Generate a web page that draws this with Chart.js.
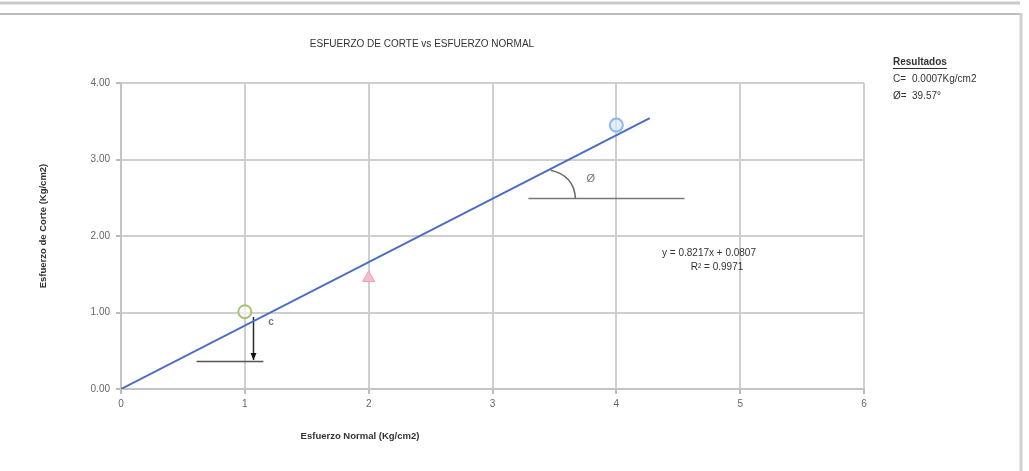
<!DOCTYPE html>
<html>
<head>
<meta charset="utf-8">
<script src="https://cdn.jsdelivr.net/npm/chart.js@4.4.1/dist/chart.umd.min.js"></script>
<style>
  html, body { margin: 0; padding: 0; background: #fff; }
  #wrap { width: 1029px; height: 471px; position: relative; }
</style>
</head>
<body>
<div id="wrap"><canvas id="shearChart" width="1029" height="471"></canvas></div>
<script>
// ensayo de corte directo: esfuerzo normal vs esfuerzo de corte
const normalStress = [1, 2, 4];
const shearStress = [1.01, 1.45, 3.45];

// linea de tendencia (extremos)
const trendX = [0, 4.27];
const trendY = [0.0, 3.54];

const xTicks = [0, 1, 2, 3, 4, 5, 6];
const yTicks = [0, 1, 2, 3, 4];

// trazos auxiliares (cohesion y angulo)
const cohesionX = [1.07, 1.07];
const cohesionY = [0.94, 0.38];
const cohesionBaseX = [0.61, 1.15];
const cohesionBaseY = [0.36, 0.36];
const phiBaseX = [3.29, 4.55];
const phiBaseY = [2.49, 2.49];
const phiArc = [[3.47, 2.86], [3.66, 2.79], [3.67, 2.49]];

const FONT = "'Liberation Sans', Arial, sans-serif";

const pts = (xs, ys) => xs.map((x, i) => ({ x: x, y: ys[i] }));

const decorPlugin = {
  id: "decor",
  beforeDraw(chart) {
    const c = chart.ctx;
    c.save();
    c.fillStyle = "#fff";
    c.fillRect(0, 0, chart.width, chart.height);
    // marco exterior del informe
    c.strokeStyle = "#c9c9c9";
    c.lineWidth = 3;
    c.beginPath(); c.moveTo(0, 3); c.lineTo(1020, 3); c.stroke();
    c.strokeStyle = "#bdbdbd";
    c.lineWidth = 2;
    c.beginPath(); c.moveTo(0, 14); c.lineTo(1021, 14); c.stroke();
    c.strokeStyle = "#d0d0d0";
    c.lineWidth = 3;
    c.beginPath(); c.moveTo(1021, 13); c.lineTo(1021, 471); c.stroke();
    c.restore();
  },
  afterDatasetsDraw(chart) {
    const c = chart.ctx;
    const xs = chart.scales.x, ys = chart.scales.y;
    const area = chart.chartArea;
    c.save();
    // arco del angulo
    c.strokeStyle = "#6a6a6a";
    c.lineWidth = 1.5;
    c.beginPath();
    c.moveTo(xs.getPixelForValue(phiArc[0][0]), ys.getPixelForValue(phiArc[0][1]));
    c.quadraticCurveTo(xs.getPixelForValue(phiArc[1][0]), ys.getPixelForValue(phiArc[1][1]),
      xs.getPixelForValue(phiArc[2][0]), ys.getPixelForValue(phiArc[2][1]));
    c.stroke();
    // flecha de cohesion
    const ax = xs.getPixelForValue(cohesionX[1]), ay = ys.getPixelForValue(cohesionY[1]);
    c.fillStyle = "#111";
    c.beginPath(); c.moveTo(ax, ay); c.lineTo(ax - 3, ay - 7); c.lineTo(ax + 3, ay - 7); c.closePath(); c.fill();

    c.fillStyle = "#777";
    c.font = "bold 10px " + FONT;
    c.textAlign = "left"; c.textBaseline = "middle";
    c.fillText("c", xs.getPixelForValue(1.19), ys.getPixelForValue(0.87));
    c.font = "11px " + FONT;
    c.fillText("Ø", xs.getPixelForValue(3.76), ys.getPixelForValue(2.75));

    // ecuacion de la tendencia
    c.fillStyle = "#333";
    c.font = "10px " + FONT;
    c.textAlign = "center";
    c.fillText("y = 0.8217x + 0.0807", 709, 253);
    c.fillText("R² = 0.9971", 717, 267);

    // titulos
    c.fillStyle = "#333";
    c.font = "10px " + FONT;
    c.fillText("ESFUERZO DE CORTE vs ESFUERZO NORMAL", 422, 44);
    c.font = "bold 9.5px " + FONT;
    c.fillText("Esfuerzo Normal (Kg/cm2)", 360, 436);
    c.save();
    c.translate(43, (area.top + area.bottom) / 2 - 10);
    c.rotate(-Math.PI / 2);
    c.fillText("Esfuerzo de Corte (Kg/cm2)", 0, 0);
    c.restore();

    // resultados
    c.textAlign = "left";
    c.font = "bold 10px " + FONT;
    c.fillText("Resultados", 893, 62);
    const w = c.measureText("Resultados").width;
    c.fillRect(893, 68, w, 1);
    c.font = "10px " + FONT;
    c.fillText("C=", 893, 79);
    c.fillText("0.0007Kg/cm2", 912, 79);
    c.fillText("Ø=", 893, 96);
    c.fillText("39.57°", 912, 96);
    c.restore();
  }
};

const ctx = document.getElementById("shearChart").getContext("2d");

new Chart(ctx, {
  type: "scatter",
  data: {
    datasets: [
      {
        label: "tendencia",
        data: pts(trendX, trendY),
        showLine: true,
        borderColor: "#4a6cc4",
        borderWidth: 2,
        pointRadius: 0
      },
      {
        label: "cohesion",
        data: pts(cohesionX, cohesionY),
        showLine: true,
        borderColor: "#2b2b2b",
        borderWidth: 1.5,
        pointRadius: 0
      },
      {
        label: "base c",
        data: pts(cohesionBaseX, cohesionBaseY),
        showLine: true,
        borderColor: "#555",
        borderWidth: 1.5,
        pointRadius: 0
      },
      {
        label: "base phi",
        data: pts(phiBaseX, phiBaseY),
        showLine: true,
        borderColor: "#777",
        borderWidth: 1.5,
        pointRadius: 0
      },
      {
        label: "P1",
        data: [{ x: normalStress[0], y: shearStress[0] }],
        pointStyle: "circle",
        pointRadius: 6.5,
        borderWidth: 2,
        borderColor: "#a8c27a",
        backgroundColor: "rgba(255,255,255,0.6)"
      },
      {
        label: "P2",
        data: [{ x: normalStress[1], y: shearStress[1] }],
        pointStyle: "triangle",
        pointRadius: 7,
        borderWidth: 1,
        borderColor: "#f0a0b4",
        backgroundColor: "#f6bccb"
      },
      {
        label: "P3",
        data: [{ x: normalStress[2], y: shearStress[2] }],
        pointStyle: "circle",
        pointRadius: 6.5,
        borderWidth: 2,
        borderColor: "#8fb8e8",
        backgroundColor: "rgba(215,232,250,0.7)"
      }
    ]
  },
  options: {
    responsive: false,
    animation: false,
    layout: { padding: { left: 0, top: 83, right: 165, bottom: 52 } },
    plugins: {
      legend: { display: false },
      tooltip: { enabled: false }
    },
    scales: {
      x: {
        type: "linear",
        min: 0,
        max: 6,
        afterBuildTicks: axis => { axis.ticks = xTicks.map(v => ({ value: v })); },
        afterFit: axis => { axis.height = 30; },
        ticks: { color: "#666", font: { family: FONT, size: 10 }, padding: 4 },
        grid: { color: "#cfcfcf", lineWidth: 2, tickLength: 5, tickColor: "#bbb" },
        border: { color: "#c4c4c4", width: 2 }
      },
      y: {
        type: "linear",
        min: 0,
        max: 4,
        afterBuildTicks: axis => { axis.ticks = yTicks.map(v => ({ value: v })); },
        afterFit: axis => { axis.width = 121; },
        ticks: {
          color: "#666",
          font: { family: FONT, size: 10 },
          padding: 6,
          callback: v => Number(v).toFixed(2)
        },
        grid: { color: "#cfcfcf", lineWidth: 2, tickLength: 5, tickColor: "#bbb" },
        border: { color: "#c4c4c4", width: 2 }
      }
    }
  },
  plugins: [decorPlugin]
});
</script>
</body>
</html>
